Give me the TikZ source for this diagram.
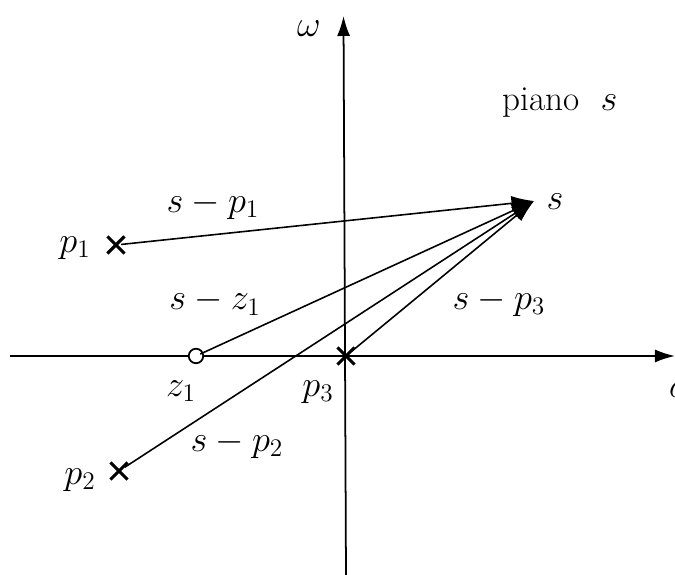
\documentclass[tikz,border=0pt]{standalone}
\usepackage{amsmath}
\usepackage{tikz}
\usetikzlibrary{positioning,arrows.meta,shapes.misc}
\tikzset{plbl/.style={font=\fontsize{20}{24}\selectfont, inner sep=1pt}}
\tikzset{ppole/.style={cross out, draw, line width=1.8pt, minimum size=8pt, inner sep=0pt}}
\tikzset{pzero/.style={circle, draw, line width=1pt, fill=white, minimum size=0.29cm, inner sep=0pt}}
\tikzset{paxis/.style={-{Latex[length=4mm,width=2.6mm]}, line width=1pt}}
\tikzset{pvec/.style={-{Latex[length=4.5mm,width=3mm]}, line width=0.9pt, shorten <=-2pt}}

\begin{document}
\begin{tikzpicture}
  \useasboundingbox (-6.92,-4.38) rectangle (6.58,7.12);

  % axes
  \coordinate (sl) at (-6.72,0);
  \coordinate (sr) at (6.58,0);
  \coordinate (wb) at (0,-4.38);
  \coordinate (wt) at (-0.05,6.8);
  \draw[paxis] (sl) -- (sr);
  \draw[paxis] (wb) -- (wt);
  \node[plbl] (wlab) at (-0.74,6.54) {$\omega$};
  \node[plbl] (slab) at (6.68,-0.68) {$\sigma$};
  \node[plbl] (piano) at (4.28,5.06) {piano\ \ $s$};

  % poles, zero and the point s
  \coordinate (s) at (3.76,3.1);
  \node[ppole] (p1) at (-4.6,2.22) {};
  \node[ppole] (p2) at (-4.54,-2.3) {};
  \node[ppole] (p3) at (0,0) {};
  \node[pzero] (z1) at (-3.0,0) {};

  \node[plbl] (sname) at (4.18,3.08) {$s$};
  \node[plbl] (p1name) at (-5.42,2.16) {$p_1$};
  \node[plbl] (p2name) at (-5.32,-2.48) {$p_2$};
  \node[plbl] (z1name) at (-3.3,-0.7) {$z_1$};
  \node[plbl] (p3name) at (-0.56,-0.72) {$p_3$};

  % vectors to s
  \draw[pvec] (p1) -- (s);
  \draw[pvec] (z1) -- (s);
  \draw[pvec] (p2) -- (s);
  \draw[pvec] (p3) -- (s);

  \node[plbl] (vp1) at (-2.66,3.02) {$s-p_1$};
  \node[plbl] (vz1) at (-2.62,1.08) {$s-z_1$};
  \node[plbl] (vp3) at (3.06,1.08) {$s-p_3$};
  \node[plbl] (vp2) at (-2.18,-1.76) {$s-p_2$};
\end{tikzpicture}
\end{document}
